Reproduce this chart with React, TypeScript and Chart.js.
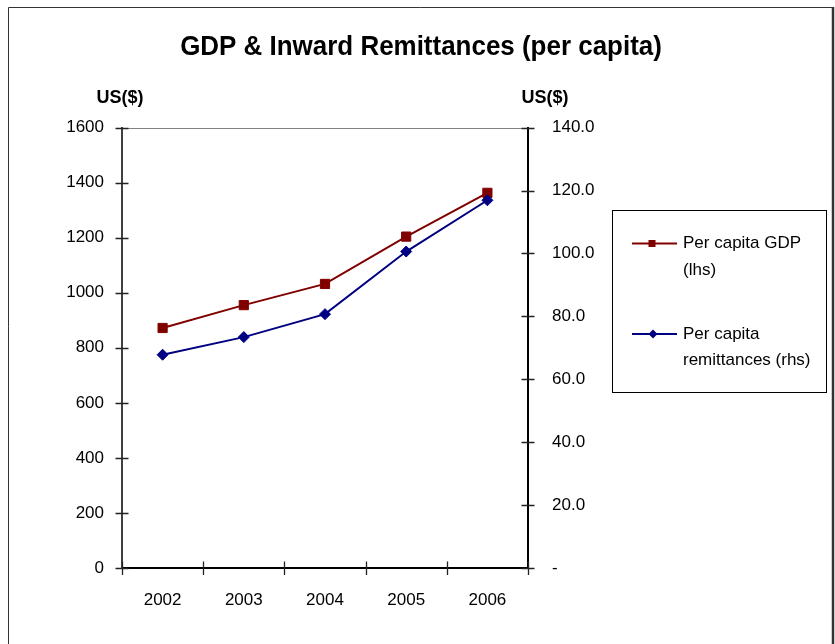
import React, { useEffect, useRef } from 'react';
import { Chart, registerables } from 'chart.js';

Chart.register(...registerables);

// ---- data ----
const years = ['2002', '2003', '2004', '2005', '2006'];
const gdpPerCapita = [872, 955, 1032, 1204, 1363];
const remittancesPerCapita = [67.8, 73.4, 80.7, 100.6, 116.9];
const gdpLegend = ['Per capita GDP', '(lhs)'];
const remittancesLegend = ['Per capita', 'remittances (rhs)'];
const chartTitle = 'GDP & Inward Remittances (per capita)';
const unitLabel = 'US($)';

const FONT = "'Liberation Sans', Arial, sans-serif";
const GDP_COLOR = '#800000';
const REM_COLOR = '#000080';

// Frame, condensed title, crossing tick marks, unit captions and the boxed legend
const decorations = {
  id: 'decorations',
  beforeDraw(chart: any) {
    const { ctx, width, height } = chart;
    ctx.save();
    ctx.fillStyle = '#ffffff';
    ctx.fillRect(0, 0, width, height);
    ctx.strokeStyle = '#333333';
    ctx.lineWidth = 1;
    ctx.beginPath();
    ctx.moveTo(8.5, height + 10);
    ctx.lineTo(8.5, 7.5);
    ctx.lineTo(832, 7.5);
    ctx.stroke();
    ctx.lineWidth = 2.5;
    ctx.beginPath();
    ctx.moveTo(833, 7);
    ctx.lineTo(833, height + 10);
    ctx.stroke();

    // title: bold face, slightly condensed
    ctx.fillStyle = '#000000';
    ctx.font = `bold 28px ${FONT}`;
    ctx.textAlign = 'center';
    ctx.textBaseline = 'alphabetic';
    ctx.translate(421, 54.5);
    ctx.scale(0.927, 1);
    ctx.fillText(chartTitle, 0, 0);
    ctx.restore();
  },
  afterDatasetsDraw(chart: any) {
    const { ctx, chartArea, scales } = chart;
    const { left, right, top, bottom } = chartArea;
    ctx.save();

    // plot area top edge
    ctx.strokeStyle = '#808080';
    ctx.lineWidth = 1;
    ctx.beginPath();
    ctx.moveTo(left, Math.round(top) + 0.5);
    ctx.lineTo(right, Math.round(top) + 0.5);
    ctx.stroke();

    // tick marks crossing the axes
    ctx.strokeStyle = '#222222';
    ctx.lineWidth = 1.3;
    ctx.beginPath();
    const yL = scales.y;
    yL.ticks.forEach((_: any, i: number) => {
      const py = Math.round(yL.getPixelForTick(i)) + 0.5;
      ctx.moveTo(left - 6.5, py);
      ctx.lineTo(left + 6.5, py);
    });
    const yR = scales.y1;
    yR.ticks.forEach((_: any, i: number) => {
      const py = Math.round(yR.getPixelForTick(i)) + 0.5;
      ctx.moveTo(right - 6.5, py);
      ctx.lineTo(right + 6.5, py);
    });
    const xs = scales.x;
    for (let i = 0; i <= years.length; i++) {
      const px = Math.round(xs.getPixelForValue(i - 0.5)) + 0.5;
      ctx.moveTo(px, bottom - 6.5);
      ctx.lineTo(px, bottom + 7);
    }
    ctx.stroke();

    // unit captions above each value axis
    ctx.fillStyle = '#000000';
    ctx.font = `bold 18px ${FONT}`;
    ctx.textAlign = 'center';
    ctx.textBaseline = 'middle';
    ctx.fillText(unitLabel, left - 2, top - 30);
    ctx.fillText(unitLabel, right + 17, top - 30);

    // legend box
    const bx = 612.5, by = 210.5, bw = 214, bh = 182;
    ctx.strokeStyle = '#000000';
    ctx.lineWidth = 1;
    ctx.strokeRect(bx, by, bw, bh);

    const items = [
      { lines: gdpLegend, color: GDP_COLOR, style: 'rect', y: 243.5 },
      { lines: remittancesLegend, color: REM_COLOR, style: 'rectRot', y: 334 },
    ];
    ctx.font = `17px ${FONT}`;
    ctx.textAlign = 'left';
    items.forEach((it) => {
      ctx.strokeStyle = it.color;
      ctx.lineWidth = 2;
      ctx.beginPath();
      ctx.moveTo(632, it.y);
      ctx.lineTo(677, it.y);
      ctx.stroke();
      ctx.fillStyle = it.color;
      if (it.style === 'rect') {
        ctx.fillRect(648.5, it.y - 3.5, 7, 7);
      } else {
        ctx.beginPath();
        ctx.moveTo(653, it.y - 4.5);
        ctx.lineTo(657.5, it.y);
        ctx.lineTo(653, it.y + 4.5);
        ctx.lineTo(648.5, it.y);
        ctx.closePath();
        ctx.fill();
      }
      ctx.fillStyle = '#000000';
      it.lines.forEach((t, k) => {
        ctx.fillText(t, 683, it.y + k * 26.5);
      });
    });
    ctx.restore();
  },
};

export default function App() {
  const canvasRef = useRef<HTMLCanvasElement | null>(null);

  useEffect(() => {
    const canvas = canvasRef.current;
    if (!canvas) return;
    const chart = new Chart(canvas, {
      type: 'line',
      data: {
        labels: years,
        datasets: [
          {
            label: gdpLegend.join(' '),
            data: gdpPerCapita,
            yAxisID: 'y',
            borderColor: GDP_COLOR,
            backgroundColor: GDP_COLOR,
            borderWidth: 2,
            pointStyle: 'rect',
            pointRadius: 6.5,
            pointBorderWidth: 1,
            pointBackgroundColor: GDP_COLOR,
            pointBorderColor: GDP_COLOR,
            tension: 0,
            order: 2,
          },
          {
            label: remittancesLegend.join(' '),
            data: remittancesPerCapita,
            yAxisID: 'y1',
            borderColor: REM_COLOR,
            backgroundColor: REM_COLOR,
            borderWidth: 2,
            pointStyle: 'rectRot',
            pointRadius: 5.5,
            pointBorderWidth: 1,
            pointBackgroundColor: REM_COLOR,
            pointBorderColor: REM_COLOR,
            tension: 0,
            order: 1,
          },
        ],
      },
      options: {
        responsive: false,
        animation: false,
        devicePixelRatio: 1,
        layout: { padding: { left: 0, right: 0, top: 127.6, bottom: 0 } },
        plugins: {
          legend: { display: false },
          tooltip: { enabled: false },
          title: { display: false },
        },
        scales: {
          x: {
            type: 'category',
            offset: true,
            grid: { display: false, drawTicks: false, offset: true },
            border: { display: true, color: '#000000', width: 2 },
            ticks: {
              color: '#000000',
              font: { family: FONT, size: 17 },
              padding: 22,
              maxRotation: 0,
            },
            afterFit: (s: any) => {
              s.height = 76;
            },
          },
          y: {
            position: 'left',
            min: 0,
            max: 1600,
            grid: { display: false, drawTicks: false },
            border: { display: true, color: '#404040', width: 2 },
            ticks: {
              stepSize: 200,
              color: '#000000',
              font: { family: FONT, size: 17 },
              padding: 18,
              callback: (v: any) => String(v),
            },
            afterFit: (s: any) => {
              s.width = 122;
            },
          },
          y1: {
            position: 'right',
            min: 0,
            max: 140,
            grid: { display: false, drawTicks: false },
            border: { display: true, color: '#000000', width: 2 },
            ticks: {
              stepSize: 20,
              color: '#000000',
              font: { family: FONT, size: 17 },
              padding: 24,
              callback: (v: any) => (Number(v) === 0 ? '-' : Number(v).toFixed(1)),
            },
            afterFit: (s: any) => {
              s.width = 307;
            },
          },
        },
      },
      plugins: [decorations],
    });
    return () => chart.destroy();
  }, []);

  return (
    <div style={{ position: 'absolute', left: 0, top: 0, width: 835, height: 644 }}>
      <canvas ref={canvasRef} width={835} height={644} style={{ display: 'block' }} />
    </div>
  );
}
